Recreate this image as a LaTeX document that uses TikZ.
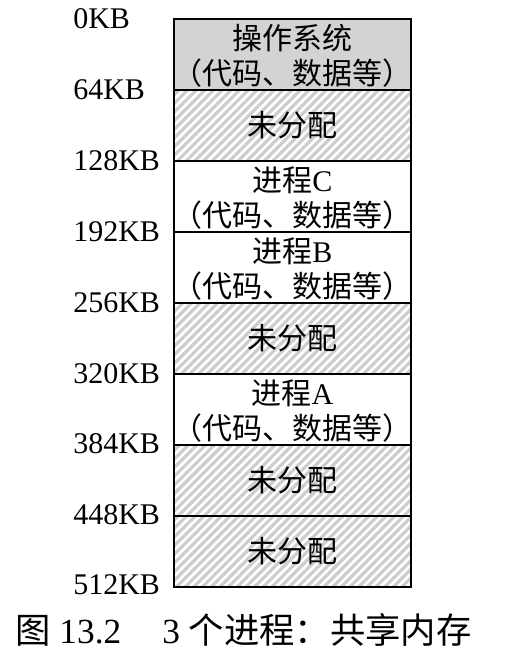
\documentclass[tikz,border=0pt]{standalone}
\usepackage{fontspec}
\setmainfont{Liberation Serif}
\newfontfamily\cjk{Noto Sans CJK SC}
\usetikzlibrary{patterns.meta}
\definecolor{osgray}{HTML}{D3D3D3}
\definecolor{hatchgray}{HTML}{CDCDCD}
\begin{document}
\begin{tikzpicture}[x=0.75pt,y=-0.75pt,
  cell/.style={draw=black, line width=1.5pt, minimum width=177.75pt,
    minimum height=53.25pt, inner sep=0pt, outer sep=0pt},
  freecell/.style={cell, pattern={Lines[angle=45,distance=4.6pt,line width=2.4pt]},
    pattern color=hatchgray},
  usedcell/.style={cell, fill=white},
  oscell/.style={cell, fill=osgray},
  txt/.style={inner sep=0pt, font=\fontsize{22.5}{27}\selectfont},
  kb/.style={txt, anchor=west},
  caption/.style={inner sep=0pt, anchor=west, font=\fontsize{26.5}{32}\selectfont},
]
% page
\fill[white] (0,0) rectangle (520,668);
\useasboundingbox (0,0) rectangle (520,668);

% memory cells, 64KB each
\node[oscell]   (os) at (292.5,54.5)  {};
\node[freecell] (f1) at (292.5,125.5) {};
\node[usedcell] (pc) at (292.5,196.5) {};
\node[usedcell] (pb) at (292.5,267.5) {};
\node[freecell] (f2) at (292.5,338.5) {};
\node[usedcell] (pa) at (292.5,409.5) {};
\node[freecell] (f3) at (292.5,480.5) {};
\node[freecell] (f4) at (292.5,551.5) {};
% outer frame
\draw[line width=1.8pt] (os.north west) rectangle (f4.south east);

% cell contents
\node[txt] (ost) at ([yshift=12pt]os.center) {\cjk 操作系统};
\node[txt] (oss) at ([yshift=-14pt]os.center) {\cjk （代码、数据等）};
\node[txt] (f1t) at (f1.center) {\cjk 未分配};
\node[txt] (pct) at ([yshift=12pt]pc.center) {{\cjk 进程}C};
\node[txt] (pcs) at ([yshift=-14pt]pc.center) {\cjk （代码、数据等）};
\node[txt] (pbt) at ([yshift=12pt]pb.center) {{\cjk 进程}B};
\node[txt] (pbs) at ([yshift=-14pt]pb.center) {\cjk （代码、数据等）};
\node[txt] (f2t) at (f2.center) {\cjk 未分配};
\node[txt] (pat) at ([yshift=12pt]pa.center) {{\cjk 进程}A};
\node[txt] (pas) at ([yshift=-14pt]pa.center) {\cjk （代码、数据等）};
\node[txt] (f3t) at (f3.center) {\cjk 未分配};
\node[txt] (f4t) at (f4.center) {\cjk 未分配};

% address marks
\node[kb] (a0)   at (73,19)  {0KB};
\node[kb] (a64)  at (73,90)  {64KB};
\node[kb] (a128) at (73,161) {128KB};
\node[kb] (a192) at (73,232) {192KB};
\node[kb] (a256) at (73,303) {256KB};
\node[kb] (a320) at (73,374) {320KB};
\node[kb] (a384) at (73,444) {384KB};
\node[kb] (a448) at (73,515) {448KB};
\node[kb] (a512) at (73,585) {512KB};

% figure caption
\node[caption] (cap) at (15,630) {{\cjk 图} 13.2{\cjk 　}\,3 {\cjk 个进程：共享内存}};
\end{tikzpicture}
\end{document}
